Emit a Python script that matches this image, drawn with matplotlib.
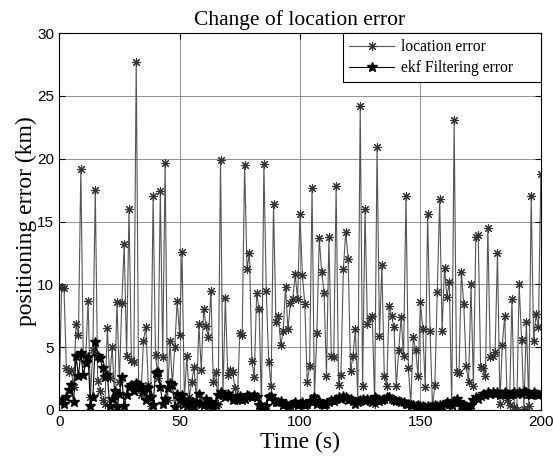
import matplotlib
matplotlib.use("Agg")
import matplotlib.pyplot as plt
import numpy as np

# location error per second, t = 0..200
location_error = [
    0.8, 9.8, 9.7, 3.3, 3.0, 3.2, 1.8, 6.8, 6.0, 19.2, 4.3,
    4.0, 8.7, 1.0, 4.8, 17.5, 2.3, 1.5, 0.8, 0.5, 6.5,
    2.5, 5.0, 1.0, 8.6, 2.2, 8.5, 13.2, 4.3, 16.0, 4.0,
    3.8, 27.7, 1.8, 1.2, 5.5, 6.6, 2.0, 0.3, 17.0, 4.4,
    2.5, 17.4, 4.2, 19.7, 0.8, 5.5, 2.0, 5.0, 8.7, 6.0,
    12.6, 0.8, 4.3, 1.0, 2.2, 3.4, 0.6, 6.8, 3.2, 8.0,
    6.7, 5.8, 9.5, 2.2, 3.0, 0.5, 19.9, 1.2, 8.9, 2.8,
    3.2, 3.0, 1.7, 0.8, 6.1, 6.0, 19.5, 11.2, 12.5, 3.9,
    2.6, 9.3, 8.0, 0.3, 19.6, 9.5, 3.8, 1.9, 16.4, 7.0,
    7.5, 5.2, 6.3, 9.8, 6.4, 8.5, 8.8, 10.8, 8.8, 15.6,
    10.7, 8.4, 2.2, 3.5, 17.7, 1.0, 6.1, 13.7, 11.0, 9.3,
    2.7, 13.8, 4.3, 4.2, 17.8, 2.0, 2.8, 11.2, 14.2, 12.0,
    3.1, 4.3, 6.4, 0.8, 24.2, 1.9, 16.0, 6.8, 7.3, 7.5,
    0.5, 20.9, 5.9, 11.5, 2.7, 1.9, 8.3, 7.5, 6.6, 1.9,
    4.8, 7.4, 4.3, 17.0, 3.3, 0.5, 5.8, 4.8, 2.7, 8.6,
    6.4, 1.8, 15.6, 6.3, 0.3, 2.0, 9.4, 16.8, 6.3, 11.3,
    9.0, 10.2, 0.3, 23.1, 3.0, 2.9, 11.0, 8.4, 3.5, 2.2,
    10.0, 1.9, 13.8, 13.9, 3.4, 3.3, 2.7, 14.5, 4.2, 4.3,
    4.6, 12.5, 0.5, 5.2, 7.5, 0.8, 0.4, 8.8, 0.2, 0.0,
    10.0, 5.6, 0.1, 7.0, 0.3, 17.0, 5.5, 7.6, 6.6, 18.8,
]

# ekf filtering error per second, t = 0..200
ekf_error = [
    0.7, 0.8, 0.5, 1.0, 1.6, 2.0, 0.6, 4.3, 2.7, 4.5, 2.8,
    3.7, 4.2, 0.3, 1.0, 5.4, 4.3, 4.1, 3.3, 2.6, 2.8,
    0.3, 0.9, 1.5, 0.2, 1.3, 2.6, 0.3, 1.2, 1.8, 2.0,
    1.5, 2.1, 2.0, 1.8, 1.5, 0.8, 1.7, 1.0, 0.4, 2.9,
    3.0, 1.8, 0.5, 0.9, 1.7, 2.1, 2.0, 0.2, 1.3, 0.8,
    1.2, 0.5, 0.3, 0.8, 0.4, 0.3, 0.6, 1.3, 0.5, 0.4,
    0.9, 0.3, 0.6, 0.3, 0.4, 1.2, 1.4, 1.2, 1.0, 1.3,
    1.1, 0.8, 0.9, 1.0, 1.1, 0.8, 0.9, 1.2, 1.1, 1.0,
    1.2, 1.0, 0.4, 0.3, 0.2, 0.3, 1.0, 1.1, 0.8, 0.6,
    0.6, 0.7, 0.4, 0.5, 0.3, 0.4, 0.5, 0.6, 0.4, 0.5,
    0.6, 0.4, 0.5, 0.7, 0.6, 1.0, 0.5, 0.7, 0.5, 0.4,
    0.5, 0.6, 0.8, 0.7, 0.9, 1.0, 0.9, 1.1, 1.0, 0.8,
    0.9, 0.7, 0.5, 0.6, 0.8, 0.9, 0.7, 0.9, 0.8, 0.6,
    1.0, 0.9, 0.7, 0.8, 0.9, 1.0, 1.0, 0.9, 0.8, 0.7,
    0.7, 0.6, 0.6, 0.5, 0.5, 0.4, 0.4, 0.3, 0.4, 0.3,
    0.3, 0.2, 0.3, 0.2, 0.3, 0.4, 0.3, 0.4, 0.3, 0.5,
    0.6, 0.5, 0.4, 0.7, 0.9, 0.6, 0.3, 0.4, 0.3, 0.2,
    0.4, 0.8, 1.0, 0.9, 1.1, 1.3, 1.2, 1.4, 1.3, 1.4,
    1.3, 1.4, 1.2, 1.3, 1.4, 1.3, 1.2, 1.3, 1.4, 1.3,
    1.4, 1.3, 1.5, 1.4, 1.3, 1.2, 1.4, 1.3, 1.2, 1.3,
]

time_s = np.arange(len(location_error))

x_ticks = [0, 50, 100, 150, 200]
y_ticks = [0, 5, 10, 15, 20, 25, 30]

serif = ["Liberation Serif", "DejaVu Serif"]

fig = plt.figure(figsize=(5.53, 4.61), dpi=100)
ax = fig.add_axes([0.107, 0.111, 0.871, 0.817])

ax.plot(time_s, location_error, color="#555555", linewidth=0.8,
        marker=(8, 2, 0), markersize=6.5, markeredgewidth=0.8,
        markeredgecolor="#333333", label="location error")
ax.plot(time_s, ekf_error, color="black", linewidth=0.8,
        marker="*", markersize=7, markerfacecolor="black",
        markeredgecolor="black", label="ekf Filtering error")

ax.set_xlim(0, 200)
ax.set_ylim(0, 30)
ax.set_xticks(x_ticks)
ax.set_yticks(y_ticks)
ax.grid(True, color="#808080", linewidth=0.6)
ax.tick_params(direction="in", top=True, right=True, labelsize=11, length=4)
for lab in ax.get_xticklabels() + ax.get_yticklabels():
    lab.set_family(["Liberation Sans", "DejaVu Sans"])
for side in ax.spines.values():
    side.set_linewidth(0.8)

ax.set_title("Change of location error", fontsize=15.5, family=serif, pad=6)
ax.set_xlabel("Time (s)", fontsize=17, family=serif, labelpad=2)
ax.set_ylabel("positioning error (km)", fontsize=17, family=serif, labelpad=0)

# legend box stretches from ~x=343 px to the right axis, as in the original
leg = ax.legend(loc="upper right", bbox_to_anchor=(0.589, 0.0, 0.411, 1.0),
                mode="expand", borderaxespad=0, fancybox=False,
                framealpha=1, edgecolor="black",
                prop={"family": serif, "size": 11.25},
                handlelength=2.9, handletextpad=0.4, labelspacing=0.3)
leg.get_frame().set_linewidth(0.8)

fig.savefig("out.png", dpi=100)
